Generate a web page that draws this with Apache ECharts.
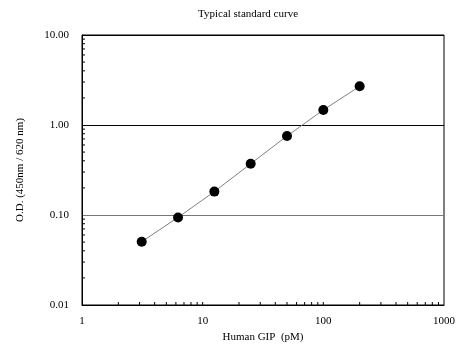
<!DOCTYPE html>
<html>
<head>
<meta charset="utf-8">
<script src="https://cdn.jsdelivr.net/npm/echarts@6/dist/echarts.min.js"></script>
<style>
  html, body { margin: 0; padding: 0; background: #fff; }
  #chart { width: 461px; height: 351px; }
</style>
</head>
<body>
<div id="chart"></div>
<script>
// standard concentrations (pM) and measured O.D.
const concentrations = [3.125, 6.25, 12.5, 25, 50, 100, 200]
const odValues = [0.0505, 0.094, 0.182, 0.371, 0.755, 1.47, 2.69]

// minor tick positions for the log axes
const xMinorTicks = [2, 3, 4, 5, 6, 7, 8, 9, 10, 20, 30, 40, 50, 60, 70, 80, 90, 100, 200, 300, 400, 500, 600, 700, 800, 900]
const yMinorTicks = [0.02, 0.03, 0.04, 0.05, 0.06, 0.07, 0.08, 0.09, 0.2, 0.3, 0.4, 0.5, 0.6, 0.7, 0.8, 0.9, 2, 3, 4, 5, 6, 7, 8, 9]

const font = 'Liberation Serif'
const chart = echarts.init(document.getElementById('chart'), null, { renderer: 'canvas' })

chart.setOption({
  animation: false,
  title: {
    text: 'Typical standard curve',
    left: 193,
    top: 4,
    textStyle: { fontFamily: font, fontSize: 11, fontWeight: 'normal', color: '#000' }
  },
  grid: {
    left: 82,
    right: 17,
    top: 35,
    bottom: 46,
    show: true,
    borderColor: '#000',
    borderWidth: 1,
    containLabel: false,
    outerBoundsMode: 'none'
  },
  xAxis: {
    type: 'log',
    logBase: 10,
    min: 1,
    max: 1000,
    name: 'Human GIP  (pM)',
    nameLocation: 'middle',
    nameGap: 27,
    nameTextStyle: { fontFamily: font, fontSize: 11, color: '#000' },
    axisLine: { lineStyle: { color: '#000', width: 1 } },
    axisTick: { show: false },
    axisLabel: {
      fontFamily: font,
      fontSize: 11,
      color: '#000',
      margin: 11,
      formatter: v => String(Math.round(v))
    },
    splitLine: { show: false }
  },
  yAxis: {
    type: 'log',
    logBase: 10,
    min: 0.01,
    max: 10,
    name: 'O.D. (450nm / 620 nm)',
    nameLocation: 'middle',
    nameGap: 56,
    nameTextStyle: { fontFamily: font, fontSize: 11, color: '#000' },
    axisLine: { lineStyle: { color: '#000', width: 1 } },
    axisTick: { show: false },
    axisLabel: {
      fontFamily: font,
      fontSize: 11,
      color: '#000',
      margin: 13,
      formatter: v => Number(v).toFixed(2)
    },
    splitLine: { show: true, lineStyle: { color: ['#000', '#777', '#000', '#000'], width: 1 } }
  },
  series: [
    {
      type: 'line',
      data: concentrations.map((c, i) => [c, odValues[i]]),
      symbol: 'circle',
      symbolSize: 10,
      itemStyle: { color: '#000' },
      lineStyle: { color: '#808080', width: 1 },
      z: 5
    },
    {
      // x axis minor ticks
      type: 'custom',
      data: xMinorTicks,
      silent: true,
      renderItem: (params, api) => {
        const p = api.coord([api.value(0), 0.01])
        return {
          type: 'line',
          shape: { x1: p[0], y1: p[1], x2: p[0], y2: p[1] - 3 },
          style: { stroke: '#000', lineWidth: 1 }
        }
      }
    },
    {
      // y axis minor ticks
      type: 'custom',
      data: yMinorTicks,
      silent: true,
      renderItem: (params, api) => {
        const p = api.coord([1, api.value(0)])
        return {
          type: 'line',
          shape: { x1: p[0], y1: p[1], x2: p[0] + 3, y2: p[1] },
          style: { stroke: '#000', lineWidth: 1 }
        }
      }
    }
  ]
})
</script>
</body>
</html>
